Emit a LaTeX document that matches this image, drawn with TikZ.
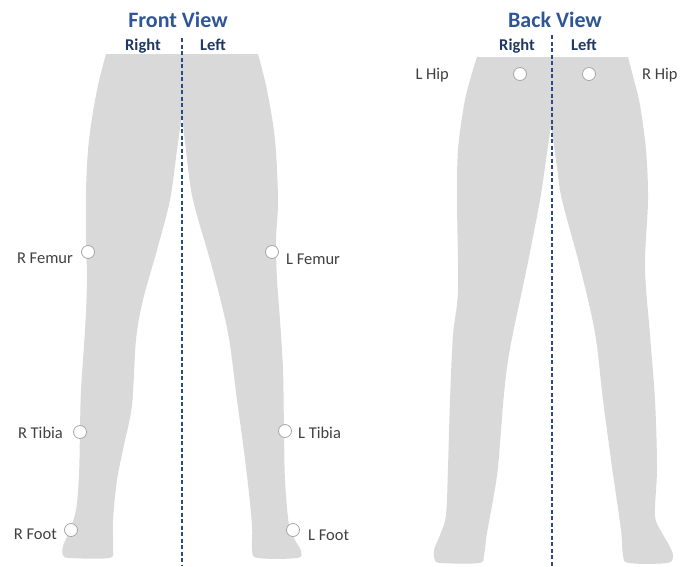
\documentclass[tikz,border=0pt]{standalone}
\usepackage{fontspec}
\setmainfont{Carlito}
\usetikzlibrary{positioning}

\definecolor{legfill}{HTML}{D9D9D9}
\definecolor{titleblue}{HTML}{2F5597}
\definecolor{sideblue}{HTML}{203864}
\definecolor{lblgray}{HTML}{404040}
\definecolor{markgray}{HTML}{A6A6A6}
\definecolor{lineblue}{HTML}{2B4A86}

\begin{document}
\begin{tikzpicture}[x=1pt,y=-1pt,
  leg/.style={fill=legfill},
  midline/.style={draw=lineblue, line width=1.4pt, dash pattern=on 4pt off 2.5pt},
  viewtitle/.style={text=titleblue, font=\fontsize{22}{26}\selectfont\bfseries},
  side/.style={text=sideblue, font=\fontsize{16.5}{20}\selectfont\bfseries, anchor=base},
  marker/.style={circle, draw=markgray, fill=white, line width=0.8pt, minimum size=13pt, inner sep=0pt},
  lbl/.style={text=lblgray, font=\fontsize{16.5}{20}\selectfont, inner sep=0pt}]

\useasboundingbox (0,0) rectangle (680,566);

% Smoothing of the leg outlines
\def\tens{0.55}

% Front view legs
\fill[leg] plot[smooth, tension=\tens] coordinates {(106,54) (97,90) (89,140) (86,190) (86,240) (87,280)
    (85,330) (81,390) (80,430) (79,475) (76,510) (69,532) (63,546) (63,555) (70,558) (109,558)
    (113,549) (113,520) (117,480) (124,445) (132,405) (136,340) (143,300) (157,250) (170,200)
    (177,150) (182,115)}
  -- plot[smooth, tension=\tens] coordinates {(182,115) (186,150) (193,200) (212,267) (228,333)
    (237,400) (246,467) (252,525) (252,550) (258,558) (297,558) (301,551) (295,540) (289,525)
    (285,480) (284,430) (283,370) (280,320) (277,280) (276,240) (278,200) (275,140) (267,90)
    (258,54)} -- cycle;

% Back view legs
\fill[leg] plot[smooth, tension=\tens] coordinates {(477,57) (470,80) (464,105) (458,150) (457,200)
    (458,290) (453,335) (450,400) (448,467) (446,515) (440,535) (434,550) (435,560) (441,563)
    (479,563) (484,555) (487,533) (493,500) (498,467) (503,405) (507,367) (513,333) (527,267)
    (540,200) (545,167) (551,125)}
  -- plot[smooth, tension=\tens] coordinates {(551,125) (557,167) (562,200) (580,267) (595,333)
    (603,400) (612,467) (621,530) (623,555) (629,563) (667,563) (673,556) (669,545) (661,531)
    (655,515) (657,467) (655,400) (650,335) (645,267) (648,200) (646,150) (640,105) (634,80)
    (628,57)} -- cycle;

% Centre lines
\coordinate (ftop) at (182,38);
\coordinate (fbot) at (182,566);
\coordinate (btop) at (552,35);
\coordinate (bbot) at (552,566);
\draw[midline] (ftop) -- (fbot);
\draw[midline] (btop) -- (bbot);

% Headings
\node[viewtitle] (front) at (178,20) {Front View};
\node[viewtitle] (back) at (555,20) {Back View};
\node[side] (fright) at (143,50) {Right};
\node[side] (fleft) at (213,50) {Left};
\node[side] (bright) at (517,50) {Right};
\node[side] (bleft) at (584,50) {Left};

% Front view markers
\node[marker] (rfemur) at (88,252) {};
\node[marker] (lfemur) at (272,252) {};
\node[marker] (rtibia) at (80,432) {};
\node[marker] (ltibia) at (285,431) {};
\node[marker] (rfoot) at (71,530) {};
\node[marker] (lfoot) at (293,530) {};

\node[lbl, left=8pt of rfemur, yshift=-6pt] (rfemurlbl) {R Femur};
\node[lbl, right=7pt of lfemur, yshift=-7pt] (lfemurlbl) {L Femur};
\node[lbl, left=10pt of rtibia, yshift=-1pt] (rtibialbl) {R Tibia};
\node[lbl, right=6pt of ltibia, yshift=-2pt] (ltibialbl) {L Tibia};
\node[lbl, left=7pt of rfoot, yshift=-4pt] (rfootlbl) {R Foot};
\node[lbl, right=8pt of lfoot, yshift=-5pt] (lfootlbl) {L Foot};

% Back view markers
\node[marker] (lhip) at (520,74) {};
\node[marker] (rhip) at (589,74) {};
\node[lbl, left=64pt of lhip, yshift=-1pt] (lhiplbl) {L Hip};
\node[lbl, right=46pt of rhip, yshift=-1pt] (rhiplbl) {R Hip};

\end{tikzpicture}
\end{document}
